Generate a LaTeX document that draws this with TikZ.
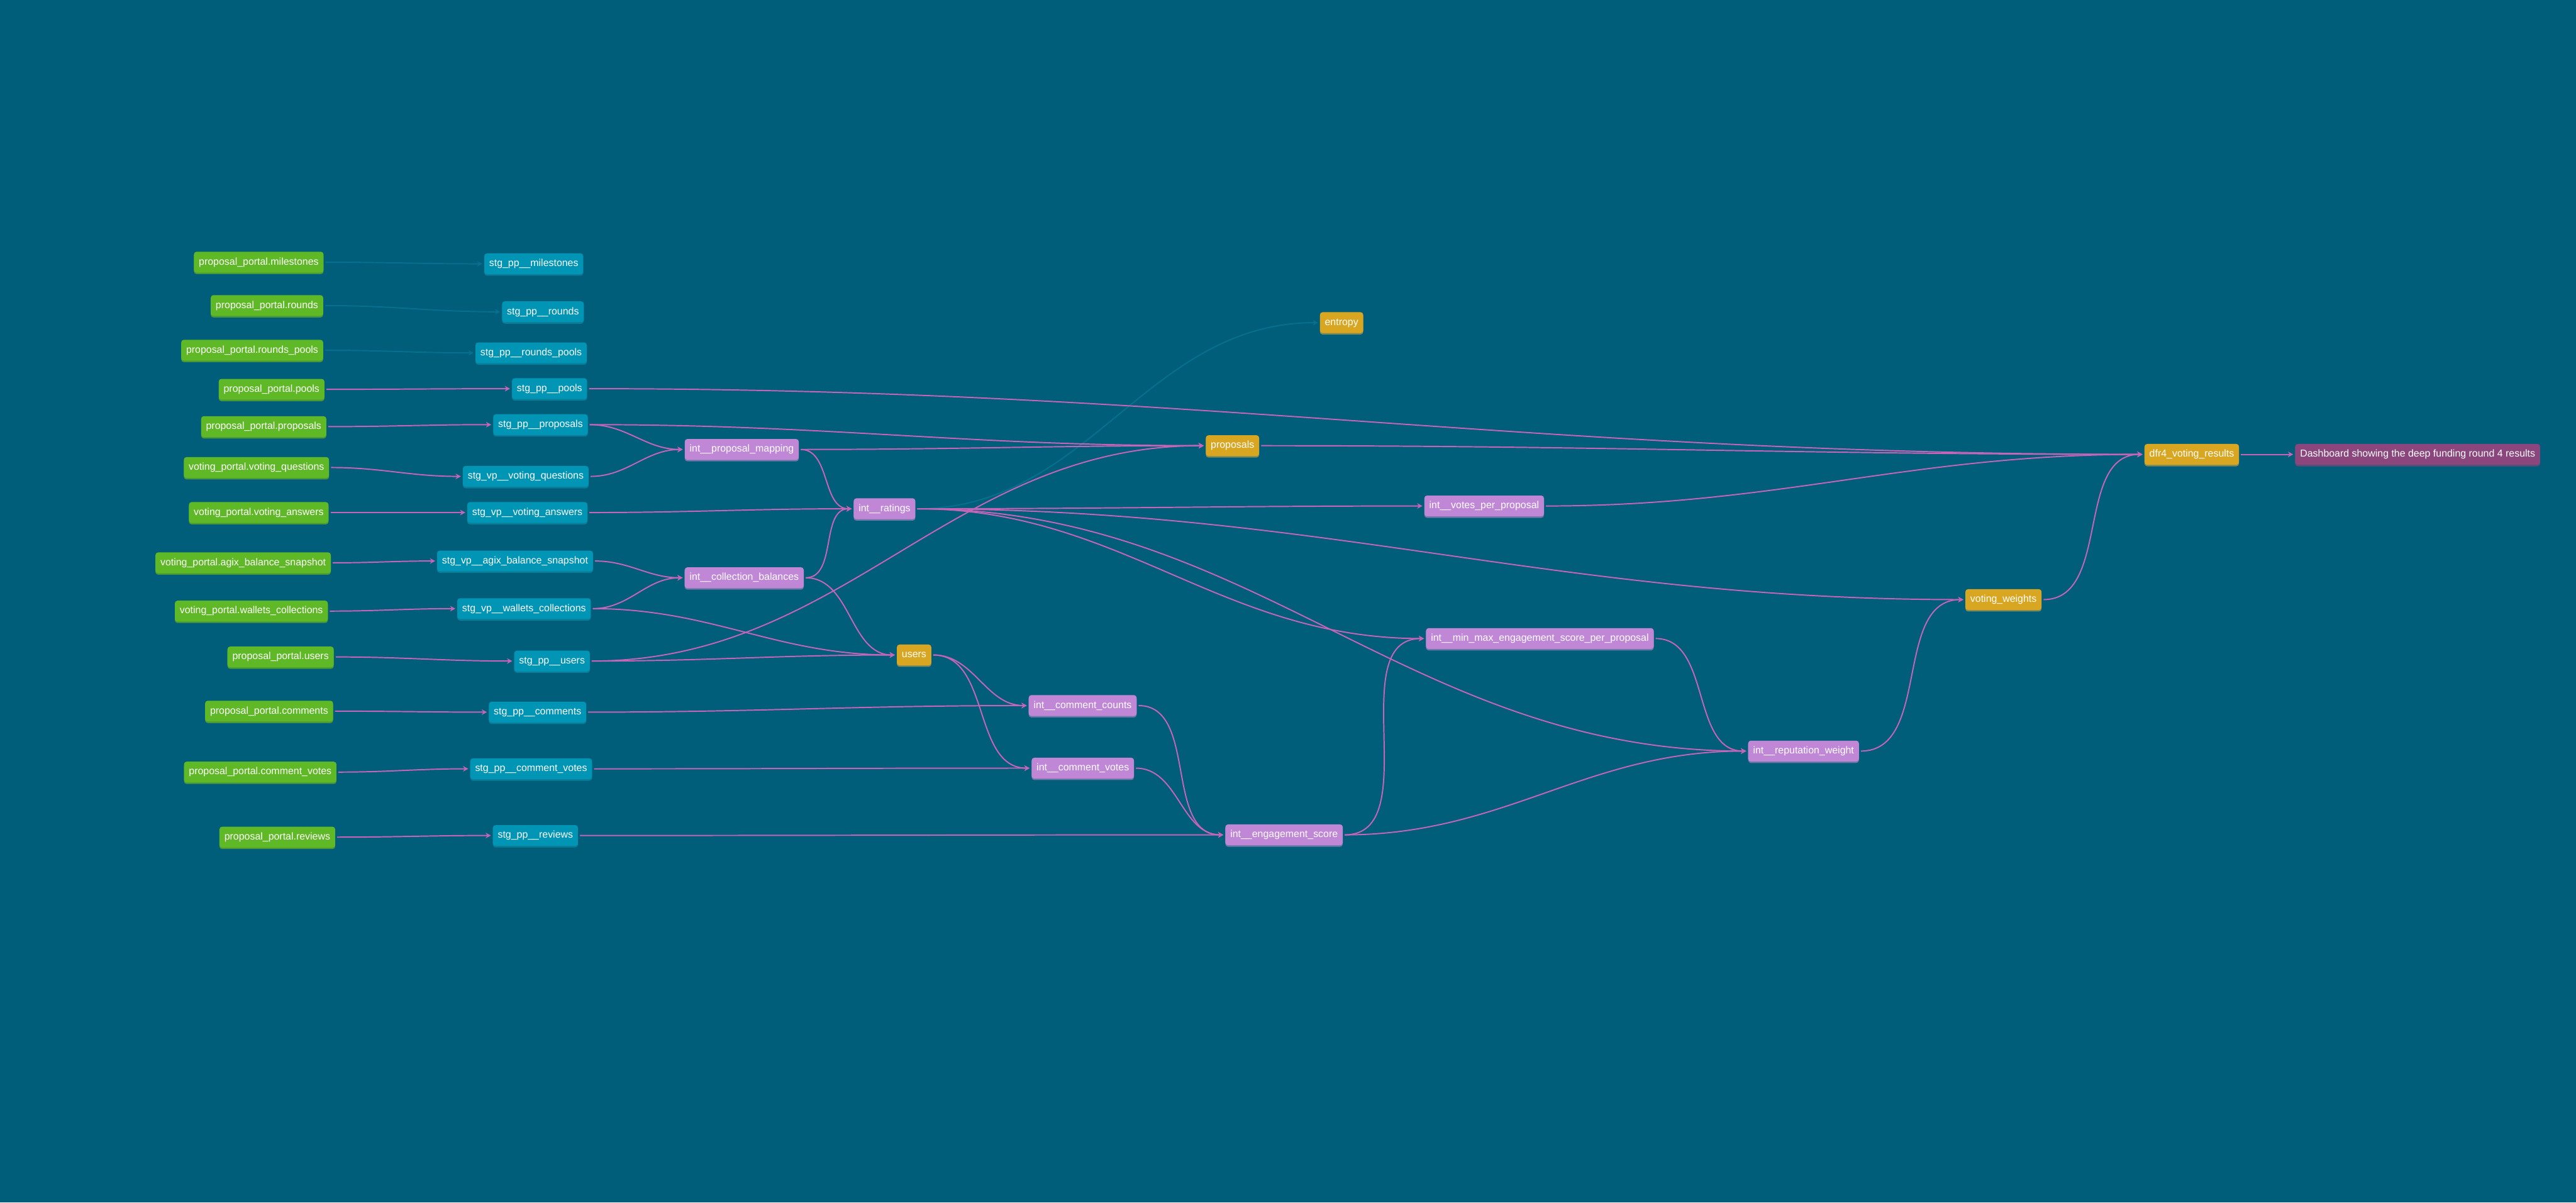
\documentclass[tikz,border=0pt]{standalone}
\usepackage{fontspec}
\setmainfont{Liberation Sans}
\usetikzlibrary{arrows.meta, shadows}

\definecolor{canvas}{HTML}{005E7A}
\definecolor{srcgreen}{HTML}{5FB825}
\definecolor{srcshade}{HTML}{4B983A}
\definecolor{stgteal}{HTML}{0094B5}
\definecolor{stgshade}{HTML}{0B7C97}
\definecolor{intlilac}{HTML}{C087D7}
\definecolor{intshade}{HTML}{6C78A6}
\definecolor{martgold}{HTML}{D9A622}
\definecolor{martshade}{HTML}{7C8A5B}
\definecolor{expplum}{HTML}{8A467D}
\definecolor{expshade}{HTML}{5A4F7A}
\definecolor{linkpink}{HTML}{C465B8}
\definecolor{linkfaded}{HTML}{07708E}

\pgfdeclarelayer{edges}
\pgfsetlayers{edges,main}

\begin{document}
\begin{tikzpicture}[x=1pt, y=-1pt, shorten >=1pt, shorten <=1pt,
    >={Stealth[length=3.2pt, width=3.4pt]},
    model/.style={rectangle, rounded corners=1.6pt, text=white,
        font=\fontsize{6.1pt}{7pt}\selectfont, minimum height=12.7pt,
        inner xsep=3pt, inner ysep=0pt, text height=4.5pt, text depth=1.3pt},
    source/.style={model, fill=srcgreen, general shadow={fill=srcshade, shadow yshift=-0.9pt}},
    staging/.style={model, fill=stgteal, general shadow={fill=stgshade, shadow yshift=-0.9pt}},
    inter/.style={model, fill=intlilac, general shadow={fill=intshade, shadow yshift=-0.9pt}},
    mart/.style={model, fill=martgold, general shadow={fill=martshade, shadow yshift=-0.9pt}},
    exposure/.style={model, fill=expplum, general shadow={fill=expshade, shadow yshift=-0.9pt}},
    link/.style={->, draw=linkpink, line width=0.75pt, out=0, in=180},
    faded/.style={->, draw=linkfaded, line width=0.75pt, out=0, in=180}]

        % sources
        \node[source] (src_milestones) at (157.5,159.6) {proposal\_portal.milestones};
        \node[source] (src_rounds) at (162.5,186) {proposal\_portal.rounds};
        \node[source] (src_rounds_pools) at (153.5,213.2) {proposal\_portal.rounds\_pools};
        \node[source] (src_pools) at (165.3,237) {proposal\_portal.pools};
        \node[source] (src_proposals) at (160.5,259.7) {proposal\_portal.proposals};
        \node[source] (src_questions) at (156.1,284.6) {voting\_portal.voting\_questions};
        \node[source] (src_answers) at (157.5,312) {voting\_portal.voting\_answers};
        \node[source] (src_agix) at (148,342.6) {voting\_portal.agix\_balance\_snapshot};
        \node[source] (src_wallets) at (153,372) {voting\_portal.wallets\_collections};
        \node[source] (src_users) at (170.8,399.9) {proposal\_portal.users};
        \node[source] (src_comments) at (163.8,432.9) {proposal\_portal.comments};
        \node[source] (src_comment_votes) at (158.4,470) {proposal\_portal.comment\_votes};
        \node[source] (src_reviews) at (168.8,509.6) {proposal\_portal.reviews};

        % staging
        \node[staging] (stg_milestones) at (324.9,160.6) {stg\_pp\_\_milestones};
        \node[staging] (stg_rounds) at (330.5,189.8) {stg\_pp\_\_rounds};
        \node[staging] (stg_rounds_pools) at (323.3,214.8) {stg\_pp\_\_rounds\_pools};
        \node[staging] (stg_pools) at (334.5,236.6) {stg\_pp\_\_pools};
        \node[staging] (stg_proposals) at (329,258.5) {stg\_pp\_\_proposals};
        \node[staging] (stg_questions) at (320,290) {stg\_vp\_\_voting\_questions};
        \node[staging] (stg_answers) at (321,312) {stg\_vp\_\_voting\_answers};
        \node[staging] (stg_agix) at (313.5,341.5) {stg\_vp\_\_agix\_balance\_snapshot};
        \node[staging] (stg_wallets) at (319,370.5) {stg\_vp\_\_wallets\_collections};
        \node[staging] (stg_users) at (336,402.4) {stg\_pp\_\_users};
        \node[staging] (stg_comments) at (327.2,433.5) {stg\_pp\_\_comments};
        \node[staging] (stg_comment_votes) at (323.3,468) {stg\_pp\_\_comment\_votes};
        \node[staging] (stg_reviews) at (325.9,508.6) {stg\_pp\_\_reviews};

        % intermediate and marts
        \node[inter] (mapping) at (451.5,273.6) {int\_\_proposal\_mapping};
        \node[inter] (balances) at (453,351.7) {int\_\_collection\_balances};
        \node[inter] (ratings) at (538.4,309.7) {int\_\_ratings};
        \node[mart] (users) at (556.4,398.7) {users};
        \node[inter] (comment_counts) at (659,429.5) {int\_\_comment\_counts};
        \node[inter] (comment_votes) at (659.1,467.6) {int\_\_comment\_votes};
        \node[inter] (engagement) at (781.6,508.2) {int\_\_engagement\_score};
        \node[mart] (entropy) at (816.6,196.4) {entropy};
        \node[mart] (proposals) at (750.2,271.3) {proposals};
        \node[inter] (votes) at (903.4,308) {int\_\_votes\_per\_proposal};
        \node[inter] (minmax) at (937.3,388.7) {int\_\_min\_max\_engagement\_score\_per\_proposal};
        \node[inter] (reputation) at (1097.8,457.2) {int\_\_reputation\_weight};
        \node[mart] (weights) at (1219.5,365) {voting\_weights};
        \node[mart] (results) at (1334.1,276.6) {dfr4\_voting\_results};
        \node[exposure] (dashboard) at (1471.6,276.6) {Dashboard showing the deep funding round 4 results};

        \begin{pgfonlayer}{edges}
        \fill[canvas] (0,0) rectangle (1568,732);

        \path
        (src_milestones) edge[faded] (stg_milestones)
        (src_rounds) edge[faded] (stg_rounds)
        (src_rounds_pools) edge[faded] (stg_rounds_pools)
        (ratings) edge[faded] (entropy);

        \path
        (src_pools) edge[link] (stg_pools)
        (src_proposals) edge[link] (stg_proposals)
        (src_questions) edge[link] (stg_questions)
        (src_answers) edge[link] (stg_answers)
        (src_agix) edge[link] (stg_agix)
        (src_wallets) edge[link] (stg_wallets)
        (src_users) edge[link] (stg_users)
        (src_comments) edge[link] (stg_comments)
        (src_comment_votes) edge[link] (stg_comment_votes)
        (src_reviews) edge[link] (stg_reviews)
        (stg_pools) edge[link] (results)
        (stg_proposals) edge[link] (mapping)
                        edge[link] (proposals)
        (stg_questions) edge[link] (mapping)
        (stg_answers) edge[link] (ratings)
        (mapping) edge[link] (ratings)
                  edge[link] (proposals)
        (stg_agix) edge[link] (balances)
        (stg_wallets) edge[link] (balances)
                      edge[link] (users)
        (balances) edge[link] (ratings)
                   edge[link] (users)
        (stg_users) edge[link] (users)
                    edge[link] (proposals)
        (ratings) edge[link] (votes)
                  edge[link] (weights)
                  edge[link] (minmax)
                  edge[link] (reputation)
        (users) edge[link] (comment_counts)
                edge[link] (comment_votes)
        (stg_comments) edge[link] (comment_counts)
        (stg_comment_votes) edge[link] (comment_votes)
        (stg_reviews) edge[link] (engagement)
        (comment_counts) edge[link] (engagement)
        (comment_votes) edge[link] (engagement)
        (engagement) edge[link] (minmax)
                     edge[link] (reputation)
        (minmax) edge[link] (reputation)
        (reputation) edge[link] (weights)
        (votes) edge[link] (results)
        (proposals) edge[link] (results)
        (weights) edge[link] (results)
        (results) edge[link] (dashboard);
        \end{pgfonlayer}

    \end{tikzpicture}
\end{document}
